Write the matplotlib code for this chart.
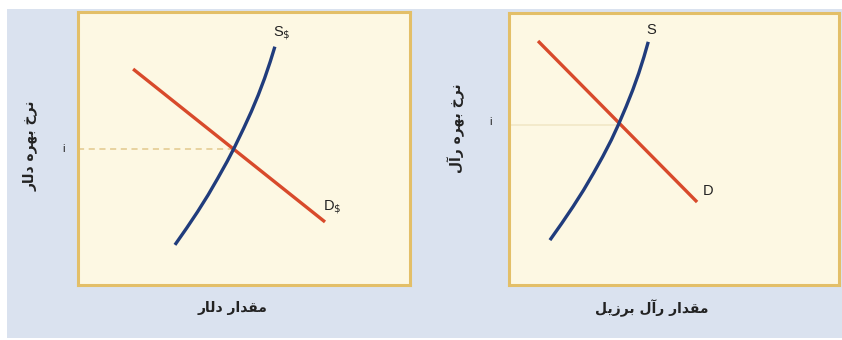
import matplotlib
matplotlib.use("Agg")
import matplotlib.pyplot as plt
from matplotlib.patches import Rectangle

# ---------------- data ----------------
# Left panel: dollar market (quantity, interest rate), axes span 0..100
dollar_supply_q = [29.2, 32.7, 36.0, 39.2, 42.1, 44.9, 47.0, 49.9, 52.2,
                   54.3, 56.2, 57.9, 59.3]
dollar_supply_i = [14.7, 20.8, 26.8, 33.0, 39.1, 45.2, 50.1, 57.4, 63.5,
                   69.6, 75.7, 81.8, 87.3]
dollar_demand_q = [16.6, 74.4]
dollar_demand_i = [79.1, 23.1]
dollar_eq_q = 47.2
dollar_eq_i = 49.8

# Right panel: Brazilian real market
real_supply_q = [12.4, 16.0, 19.4, 22.6, 25.6, 28.4, 31.0, 33.1, 35.5,
                 37.5, 39.3, 40.9, 42.2]
real_supply_i = [16.5, 22.7, 28.8, 34.9, 41.1, 47.2, 53.3, 58.8, 65.6,
                 71.7, 77.8, 83.9, 89.4]
real_demand_q = [8.8, 57.0]
real_demand_i = [89.7, 30.5]
real_eq_q = 33.1
real_eq_i = 58.8

left_ylabel = "نرخ بهره دلار"
left_xlabel = "مقدار دلار"
right_ylabel = "نرخ بهره رآل"
right_xlabel = "مقدار رآل برزیل"
left_s_label = r"S$_{\$}$"
left_d_label = r"D$_{\$}$"
right_s_label = "S"
right_d_label = "D"
rate_tick = "i"

# ---------------- minimal Arabic-script shaping ----------------
# (isolated, final, initial, medial); None -> letter does not join forward
FORMS = {
    "ا": ("\uFE8D", "\uFE8E", None, None),
    "آ": ("\uFE81", "\uFE82", None, None),
    "ب": ("\uFE8F", "\uFE90", "\uFE91", "\uFE92"),
    "خ": ("\uFEA5", "\uFEA6", "\uFEA7", "\uFEA8"),
    "د": ("\uFEA9", "\uFEAA", None, None),
    "ر": ("\uFEAD", "\uFEAE", None, None),
    "ز": ("\uFEAF", "\uFEB0", None, None),
    "ق": ("\uFED5", "\uFED6", "\uFED7", "\uFED8"),
    "ل": ("\uFEDD", "\uFEDE", "\uFEDF", "\uFEE0"),
    "م": ("\uFEE1", "\uFEE2", "\uFEE3", "\uFEE4"),
    "ن": ("\uFEE5", "\uFEE6", "\uFEE7", "\uFEE8"),
    "ه": ("\uFEE9", "\uFEEA", "\uFEEB", "\uFEEC"),
    "ی": ("\uFBFC", "\uFBFD", "\uFBFE", "\uFBFF"),
}


def shape(text):
    out = []
    chars = list(text)
    for k, c in enumerate(chars):
        if c not in FORMS:
            out.append(c)
            continue
        prev = chars[k - 1] if k > 0 else None
        nxt = chars[k + 1] if k + 1 < len(chars) else None
        join_prev = prev in FORMS and FORMS[prev][2] is not None
        join_next = nxt in FORMS and FORMS[c][2] is not None
        iso, fin, ini, med = FORMS[c]
        if join_prev and join_next:
            out.append(med)
        elif join_prev:
            out.append(fin)
        elif join_next:
            out.append(ini)
        else:
            out.append(iso)
    return "".join(out)[::-1]


# ---------------- styling ----------------
BG_BLUE = "#dae2ef"
PANEL = "#fdf8e3"
BORDER = "#e3bf68"
BLUE = "#203c7c"
RED = "#d84a2b"
TXT = "#222222"
LAT = ["Liberation Sans", "DejaVu Sans"]
ARAB = ["DejaVu Sans"]

fig = plt.figure(figsize=(8.42, 3.40), dpi=100)
fig.patch.set_facecolor("white")
bg = Rectangle((7 / 842, 2 / 340), 1 - 7 / 842, (340 - 11) / 340,
               transform=fig.transFigure, facecolor=BG_BLUE,
               edgecolor="none", zorder=-10)
fig.add_artist(bg)

axL = fig.add_axes([78 / 842, 55 / 340, 332 / 842, 273 / 340])
axR = fig.add_axes([509 / 842, 55 / 340, 330 / 842, 272 / 340])

for ax in (axL, axR):
    ax.set_zorder(1)
    ax.set_facecolor(PANEL)
    ax.set_xlim(0, 100)
    ax.set_ylim(0, 100)
    ax.set_xticks([])
    ax.set_yticks([])
    for sp in ax.spines.values():
        sp.set_color(BORDER)
        sp.set_linewidth(2.2)

# left panel
axL.plot([0, dollar_eq_q], [dollar_eq_i, dollar_eq_i], color="#e2c98c",
         lw=1.1, ls=(0, (4, 3)), zorder=1)
axL.plot(dollar_demand_q, dollar_demand_i, color=RED, lw=2.4,
         solid_capstyle="butt", zorder=2)
axL.plot(dollar_supply_q, dollar_supply_i, color=BLUE, lw=2.4,
         solid_capstyle="butt", solid_joinstyle="round", zorder=3)
axL.text(dollar_supply_q[-1] + 2.0, dollar_supply_i[-1] + 1.8, left_s_label,
         fontsize=10.5, color=TXT, family=LAT, ha="center", va="bottom")
axL.text(dollar_demand_q[-1] - 0.5, dollar_demand_i[-1] + 2.0, left_d_label,
         fontsize=10.5, color=TXT, family=LAT, ha="left", va="bottom")
axL.text(-0.045, dollar_eq_i, rate_tick, transform=axL.get_yaxis_transform(),
         fontsize=8, color=TXT, family=LAT, ha="center", va="center")
axL.text(0.464, -0.085, shape(left_xlabel), transform=axL.transAxes,
         fontsize=10, fontweight="bold", color=TXT, family=ARAB,
         ha="center", va="center")
axL.text(-0.145, 0.51, shape(left_ylabel), transform=axL.transAxes,
         fontsize=10, fontweight="bold", color=TXT, family=ARAB,
         ha="center", va="center", rotation=90)

# right panel
axR.plot([0, real_eq_q], [real_eq_i, real_eq_i], color="#f1e6c4",
         lw=1.1, zorder=1)
axR.plot(real_demand_q, real_demand_i, color=RED, lw=2.4,
         solid_capstyle="butt", zorder=2)
axR.plot(real_supply_q, real_supply_i, color=BLUE, lw=2.4,
         solid_capstyle="butt", solid_joinstyle="round", zorder=3)
axR.text(real_supply_q[-1] + 1.0, real_supply_i[-1] + 1.8, right_s_label,
         fontsize=10.5, color=TXT, family=LAT, ha="center", va="bottom")
axR.text(real_demand_q[-1] + 1.8, real_demand_i[-1] + 1.5, right_d_label,
         fontsize=10.5, color=TXT, family=LAT, ha="left", va="bottom")
axR.text(-0.055, real_eq_i + 1.0, rate_tick, transform=axR.get_yaxis_transform(),
         fontsize=8, color=TXT, family=LAT, ha="center", va="center")
axR.text(0.433, -0.085, shape(right_xlabel), transform=axR.transAxes,
         fontsize=10, fontweight="bold", color=TXT, family=ARAB,
         ha="center", va="center")
axR.text(-0.16, 0.575, shape(right_ylabel), transform=axR.transAxes,
         fontsize=10, fontweight="bold", color=TXT, family=ARAB,
         ha="center", va="center", rotation=90)

fig.savefig("out.png", dpi=100, facecolor=fig.get_facecolor())
